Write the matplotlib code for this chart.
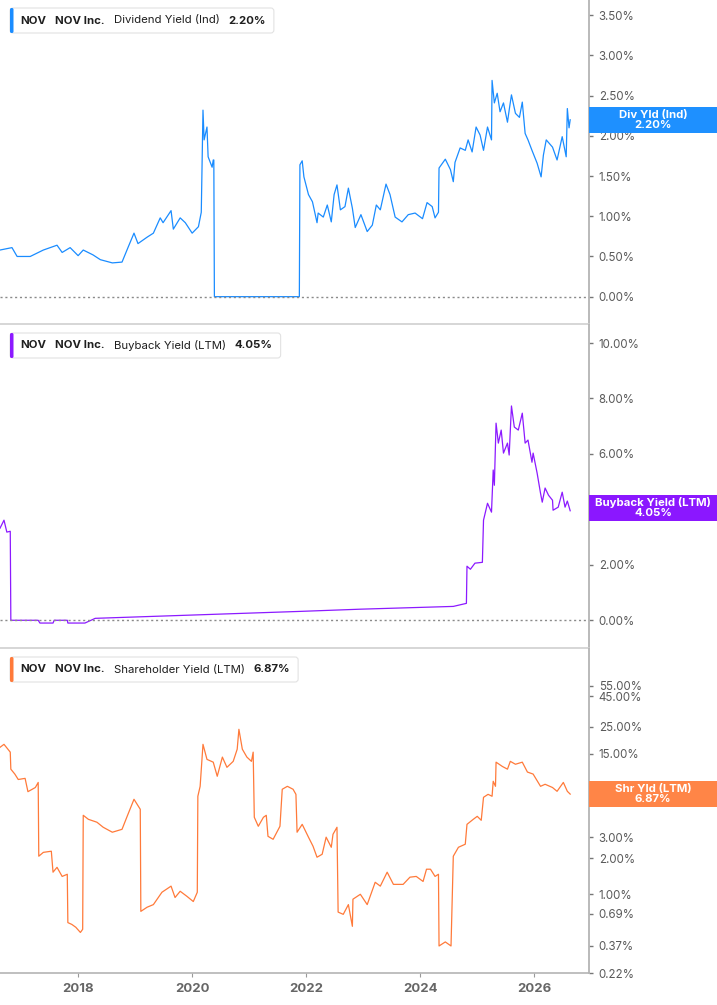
import numpy as np
import matplotlib.pyplot as plt
from matplotlib.patches import Rectangle, FancyBboxPatch
from matplotlib.transforms import IdentityTransform
from matplotlib.ticker import FixedLocator, NullLocator

plt.rcParams['font.family'] = ['Inter', 'DejaVu Sans']

# Dividend yield (Ind), % -- dates as decimal years
div_years = [2016.63, 2016.84, 2016.93, 2017.16, 2017.39, 2017.63, 2017.72, 2017.86, 2018.00, 2018.09,
             2018.26, 2018.39, 2018.60, 2018.77, 2018.88, 2018.98, 2019.05, 2019.21, 2019.32, 2019.44,
             2019.49, 2019.63, 2019.67, 2019.79, 2019.88, 2020.00, 2020.11, 2020.16, 2020.19, 2020.21,
             2020.26, 2020.28, 2020.35, 2020.37, 2020.38, 2020.39, 2021.88, 2021.89, 2021.93, 2021.96,
             2022.04, 2022.11, 2022.19, 2022.21, 2022.30, 2022.37, 2022.44, 2022.49, 2022.54, 2022.60,
             2022.68, 2022.74, 2022.81, 2022.86, 2022.96, 2023.07, 2023.16, 2023.23, 2023.30, 2023.40,
             2023.47, 2023.56, 2023.68, 2023.79, 2023.91, 2024.04, 2024.12, 2024.21, 2024.26, 2024.32,
             2024.33, 2024.44, 2024.53, 2024.58, 2024.61, 2024.70, 2024.79, 2024.84, 2024.91, 2024.98,
             2025.05, 2025.11, 2025.18, 2025.25, 2025.26, 2025.30, 2025.35, 2025.40, 2025.46, 2025.53,
             2025.56, 2025.60, 2025.67, 2025.74, 2025.79, 2025.84, 2025.89, 2025.96, 2026.05, 2026.12,
             2026.16, 2026.21, 2026.32, 2026.40, 2026.49, 2026.56, 2026.58, 2026.61, 2026.63]
div_values = [0.58, 0.61, 0.50, 0.50, 0.58, 0.64, 0.55, 0.61, 0.51, 0.58,
              0.52, 0.46, 0.42, 0.43, 0.62, 0.79, 0.66, 0.74, 0.79, 0.98,
              0.92, 1.07, 0.84, 0.98, 0.92, 0.79, 0.87, 1.05, 2.32, 1.95,
              2.11, 1.74, 1.61, 1.70, 1.70, 0.00, 0.00, 1.64, 1.69, 1.49,
              1.27, 1.18, 0.92, 1.04, 0.99, 1.14, 0.93, 1.27, 1.39, 1.08,
              1.12, 1.35, 1.10, 0.86, 1.02, 0.81, 0.89, 1.14, 1.08, 1.40,
              1.27, 0.99, 0.93, 1.02, 1.04, 0.97, 1.17, 1.12, 0.98, 1.05,
              1.60, 1.71, 1.58, 1.43, 1.67, 1.85, 1.82, 1.95, 1.80, 2.11,
              2.01, 1.82, 2.11, 1.95, 2.69, 2.41, 2.53, 2.30, 2.41, 2.17,
              2.32, 2.51, 2.28, 2.23, 2.42, 2.03, 1.95, 1.82, 1.66, 1.49,
              1.76, 1.95, 1.86, 1.70, 1.99, 1.74, 2.34, 2.10, 2.20]

# Buyback yield (LTM), %
buy_years = [2016.63, 2016.70, 2016.75, 2016.81, 2016.82, 2017.30, 2017.33, 2017.56, 2017.58, 2017.81,
             2017.82, 2018.12, 2018.30, 2021.89, 2022.95, 2024.58, 2024.81, 2024.82, 2024.88, 2024.96,
             2025.09, 2025.11, 2025.18, 2025.25, 2025.28, 2025.30, 2025.33, 2025.37, 2025.42, 2025.46,
             2025.53, 2025.56, 2025.60, 2025.65, 2025.72, 2025.79, 2025.84, 2025.89, 2025.96, 2025.98,
             2026.05, 2026.11, 2026.14, 2026.19, 2026.25, 2026.32, 2026.33, 2026.42, 2026.49, 2026.54,
             2026.58, 2026.63]
buy_values = [3.32, 3.61, 3.18, 3.21, 0.00, 0.00, -0.10, -0.10, 0.00, 0.00,
              -0.10, -0.10, 0.07, 0.32, 0.40, 0.50, 0.61, 1.95, 1.84, 2.06,
              2.09, 3.61, 4.22, 3.90, 5.42, 4.87, 7.11, 6.39, 6.86, 6.03,
              6.39, 5.96, 7.73, 6.97, 6.86, 7.47, 6.39, 6.50, 5.70, 6.03,
              5.31, 4.58, 4.26, 4.77, 4.51, 4.33, 3.97, 4.08, 4.62, 4.08,
              4.30, 3.95]

# Shareholder yield (LTM), %
shr_years = [2016.63, 2016.70, 2016.81, 2016.82, 2016.89, 2016.95, 2017.07, 2017.12, 2017.25, 2017.30,
             2017.31, 2017.39, 2017.53, 2017.56, 2017.63, 2017.72, 2017.81, 2017.82, 2017.89, 2017.96,
             2018.04, 2018.08, 2018.09, 2018.18, 2018.33, 2018.44, 2018.60, 2018.77, 2018.86, 2018.98,
             2019.09, 2019.10, 2019.21, 2019.32, 2019.47, 2019.63, 2019.70, 2019.79, 2019.91, 2020.02,
             2020.09, 2020.10, 2020.14, 2020.19, 2020.26, 2020.37, 2020.44, 2020.53, 2020.61, 2020.72,
             2020.79, 2020.82, 2020.88, 2020.96, 2021.04, 2021.07, 2021.09, 2021.16, 2021.25, 2021.30,
             2021.33, 2021.42, 2021.54, 2021.58, 2021.67, 2021.77, 2021.82, 2021.84, 2021.93, 2022.04,
             2022.12, 2022.19, 2022.28, 2022.35, 2022.44, 2022.47, 2022.54, 2022.56, 2022.65, 2022.74,
             2022.81, 2022.82, 2022.95, 2023.07, 2023.21, 2023.30, 2023.42, 2023.53, 2023.70, 2023.82,
             2023.93, 2024.05, 2024.11, 2024.18, 2024.26, 2024.32, 2024.33, 2024.44, 2024.54, 2024.58,
             2024.67, 2024.79, 2024.82, 2024.93, 2025.00, 2025.07, 2025.11, 2025.19, 2025.26, 2025.28,
             2025.32, 2025.33, 2025.44, 2025.53, 2025.58, 2025.67, 2025.79, 2025.88, 2025.98, 2026.11,
             2026.19, 2026.32, 2026.40, 2026.51, 2026.58, 2026.63]
shr_values = [16.9, 17.9, 15.4, 11.1, 10.1, 9.1, 9.3, 7.2, 7.8, 8.6,
              2.08, 2.24, 2.29, 1.53, 1.68, 1.41, 1.47, 0.58, 0.56, 0.53,
              0.48, 0.51, 4.57, 4.23, 4.00, 3.63, 3.30, 3.49, 4.48, 6.22,
              5.13, 0.72, 0.78, 0.82, 1.04, 1.17, 0.94, 1.06, 0.96, 0.87,
              1.04, 6.59, 7.98, 17.9, 13.4, 12.7, 9.68, 14.0, 11.5, 12.9,
              16.3, 23.9, 16.3, 14.0, 12.9, 15.4, 4.40, 3.70, 4.40, 4.57,
              3.05, 2.88, 3.70, 7.54, 7.98, 7.54, 6.84, 3.30, 3.84, 3.00,
              2.52, 2.04, 2.16, 3.00, 2.47, 3.17, 3.63, 0.71, 0.68, 0.82,
              0.54, 0.91, 1.00, 0.82, 1.26, 1.17, 1.53, 1.21, 1.21, 1.39,
              1.41, 1.28, 1.62, 1.62, 1.41, 1.47, 0.37, 0.40, 0.37, 2.08,
              2.47, 2.62, 3.84, 4.23, 4.48, 4.15, 6.46, 6.84, 6.59, 8.79,
              7.98, 12.7, 11.7, 11.1, 12.9, 12.2, 12.7, 10.5, 10.1, 7.98,
              8.3, 7.8, 7.25, 8.6, 7.25, 6.87]

shr_ticks = [0.22, 0.37, 0.69, 1.0, 2.0, 3.0, 6.0, 8.0, 15.0, 25.0, 45.0, 55.0]
year_ticks = [2018, 2020, 2022, 2024, 2026]

panels = [
    ('Dividend Yield (Ind)', 'Div Yld (Ind)', 2.20, '#1a8cff', '#1e90ff'),
    ('Buyback Yield (LTM)', 'Buyback Yield (LTM)', 4.05, '#8c1aff', '#8b17ff'),
    ('Shareholder Yield (LTM)', 'Shr Yld (LTM)', 6.87, '#ff7a3a', '#ff8547'),
]

W, H = 717, 1005
fig = plt.figure(figsize=(W / 100, H / 100), dpi=100)
AX_RIGHT = 589


def add_panel(top, bottom, share=None):
    return fig.add_axes([0, 1 - bottom / H, AX_RIGHT / W, (bottom - top) / H], sharex=share)


ax1 = add_panel(0, 324)
ax2 = add_panel(325, 648, ax1)
ax3 = add_panel(649, 973, ax1)
axes = [ax1, ax2, ax3]

ax1.plot(div_years, div_values, color=panels[0][3], lw=0.9)
ax2.plot(buy_years, buy_values, color=panels[1][3], lw=0.9)
ax3.plot(shr_years, shr_values, color=panels[2][3], lw=0.9)

ax1.set_ylim(-0.34, 3.69)
ax1.yaxis.set_major_locator(FixedLocator(np.arange(0, 3.51, 0.5)))
ax2.set_ylim(-1.0, 10.65)
ax2.yaxis.set_major_locator(FixedLocator(np.arange(0, 10.01, 2)))
ax3.set_yscale('log')
ax3.set_ylim(0.22, 112)
ax3.yaxis.set_major_locator(FixedLocator(shr_ticks))
ax3.yaxis.set_minor_locator(NullLocator())

for ax in (ax1, ax2):
    ax.axhline(0, color='#8a8a8a', lw=1, ls=(0, (1.5, 2)))

for ax in axes:
    ax.set_xlim(2016.63, 2026.96)
    ax.patch.set_visible(False)
    for side in ('left', 'top'):
        ax.spines[side].set_visible(False)
    ax.spines['right'].set_color('#b4b4b4')
    ax.spines['right'].set_linewidth(1.3)
    ax.spines['bottom'].set_color('#cfcfcf')
    ax.spines['bottom'].set_linewidth(1.2)
    ax.yaxis.tick_right()
    ax.yaxis.set_major_formatter(lambda v, p: f'{v:.2f}%')
    ax.tick_params(axis='y', length=3, width=1, color='#777777', labelcolor='#5a5a5a',
                   labelsize=8.3, pad=4)

for ax in (ax1, ax2):
    ax.tick_params(axis='x', bottom=False, labelbottom=False)

ax3.set_xticks(year_ticks)
ax3.set_xticklabels([str(y) for y in year_ticks], fontweight='bold')
ax3.tick_params(axis='x', length=3, color='#999999', labelcolor='#666666', labelsize=9.5, pad=4)
ax3.spines['bottom'].set_color('#b4b4b4')

# legend chips (top-left of every panel)
chips = []
for ax, (metric, short, last, color, boxcolor) in zip(axes, panels):
    parts = [('NOV', 'bold'), ('NOV Inc.', 'bold'), (metric, 'normal'), (f'{last:.2f}%', 'bold')]
    first = ax.annotate(parts[0][0], xy=(0, 1), xycoords='axes fraction', xytext=(20, -20.5),
                        textcoords='offset pixels', va='center', ha='left', fontsize=8.2,
                        fontweight=parts[0][1], color='#1f1f1f', zorder=6, annotation_clip=False)
    prev = first
    for txt, weight in parts[1:]:
        prev = ax.annotate(txt, xy=(1, 0.5), xycoords=prev, xytext=(9, 0), textcoords='offset pixels',
                           va='center', ha='left', fontsize=8.2, fontweight=weight,
                           color='#1f1f1f', zorder=6, annotation_clip=False)
    chips.append((ax, prev, color))

fig.canvas.draw()
renderer = fig.canvas.get_renderer()
for ax, last_txt, color in chips:
    top = ax.get_window_extent(renderer).y1
    right = last_txt.get_window_extent(renderer).x1 + 8
    box = FancyBboxPatch((10, top - 33), right - 10, 25, boxstyle='round,pad=0,rounding_size=3',
                         facecolor='white', edgecolor='#e2e2e2', lw=0.8,
                         transform=IdentityTransform(), zorder=4, clip_on=False)
    ax.add_artist(box)
    bar = FancyBboxPatch((10, top - 33), 3.5, 25, boxstyle='round,pad=0,rounding_size=1.5',
                         facecolor=color, edgecolor='none', transform=IdentityTransform(),
                         zorder=5, clip_on=False)
    ax.add_artist(bar)

# last-value tags on the right axis
for ax, (metric, short, last, color, boxcolor) in zip(axes, panels):
    yc = ax.transData.transform((2020, last))[1]
    fig.add_artist(Rectangle((AX_RIGHT, yc - 13), W - AX_RIGHT, 26, facecolor=boxcolor,
                             edgecolor='none', transform=IdentityTransform(), zorder=3))
    fig.text(653 / W, yc / H, f'{short}\n{last:.2f}%', ha='center', va='center', color='white',
             fontsize=8.2, fontweight='bold', linespacing=1.0, zorder=4)

fig.savefig('out.png', dpi=100, facecolor='white')
